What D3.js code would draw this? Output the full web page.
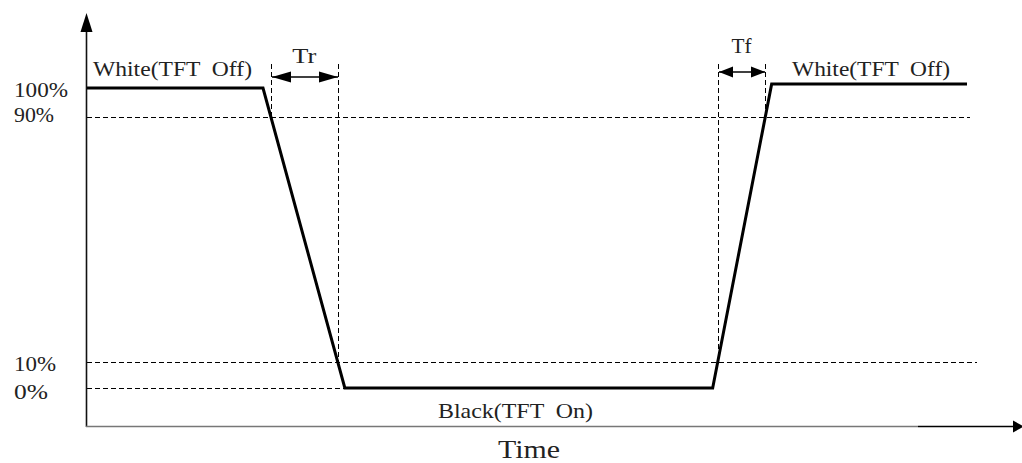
<!DOCTYPE html>
<html><head><meta charset="utf-8">
<script src="https://cdn.jsdelivr.net/npm/d3@7/dist/d3.min.js"></script>
<style>html,body{margin:0;padding:0;background:#fff;} svg{display:block;} text{white-space:pre;}</style>
</head><body><svg id="c" width="1022" height="463"></svg>
<script>
// Data
const waveT = [0, 20, 29.3, 71.1, 77.8, 100];      // time (relative units)
const waveV = [100, 100, 0, 0, 101.3, 101.3];      // optical response %
const levelLabels = ["100%", "90%", "10%", "0%"];
const levelValues = [100, 90.5, 8.7, 0];
const thresholds = [90.5, 8.7];                    // 90% / 10% thresholds
const stateLabels = ["White(TFT  Off)", "White(TFT  Off)", "Black(TFT  On)"];
const timeLabels = ["Tr", "Tf"];
const axisTitle = "Time";

const svg = d3.select("#c");
const x = d3.scaleLinear().domain([0, 100]).range([87, 967]);
const y = d3.scaleLinear().domain([0, 100]).range([388, 88]);
const FONT = "'Liberation Serif', 'DejaVu Serif', serif";

function crossT(i, v) {
  const t0 = waveT[i], t1 = waveT[i+1], v0 = waveV[i], v1 = waveV[i+1];
  return t0 + (v - v0) / (v1 - v0) * (t1 - t0);
}
const trStart = crossT(1, thresholds[0]), trEnd = crossT(1, thresholds[1]);
const tfStart = crossT(3, thresholds[1]), tfEnd = crossT(3, thresholds[0]);

const dash = "5,3";
svg.append("line").attr("x1", 87).attr("x2", 970).attr("y1", Math.round(y(thresholds[0]))+0.5).attr("y2", Math.round(y(thresholds[0]))+0.5)
  .attr("stroke","#000").attr("stroke-width",1).attr("stroke-dasharray",dash);
svg.append("line").attr("x1", 87).attr("x2", 977).attr("y1", Math.round(y(thresholds[1]))+0.5).attr("y2", Math.round(y(thresholds[1]))+0.5)
  .attr("stroke","#000").attr("stroke-width",1).attr("stroke-dasharray",dash);
svg.append("line").attr("x1", 87).attr("x2", x(waveT[2])).attr("y1", y(0)+0.5).attr("y2", y(0)+0.5)
  .attr("stroke","#000").attr("stroke-width",1).attr("stroke-dasharray",dash);

const vlines = [[trStart, thresholds[0]], [trEnd, thresholds[1]], [tfStart, thresholds[1]], [tfEnd, thresholds[0]]];
svg.selectAll(".vl").data(vlines).enter().append("line")
  .attr("x1", d => Math.round(x(d[0])) + 0.5).attr("x2", d => Math.round(x(d[0])) + 0.5)
  .attr("y1", 64).attr("y2", d => y(d[1]))
  .attr("stroke","#000").attr("stroke-width",1).attr("stroke-dasharray",dash);

// axes
svg.append("line").attr("x1",86.5).attr("x2",86.5).attr("y1",427).attr("y2",32)
  .attr("stroke","#111").attr("stroke-width",1.6);
svg.append("path").attr("d","M86.5,13 L92.5,32 L80.5,32 Z").attr("fill","#000");
svg.append("line").attr("x1",86).attr("x2",918).attr("y1",426.5).attr("y2",426.5)
  .attr("stroke","#777").attr("stroke-width",1.5);
svg.append("line").attr("x1",918).attr("x2",1013).attr("y1",426.5).attr("y2",426.5)
  .attr("stroke","#000").attr("stroke-width",1.5);
svg.append("path").attr("d","M1013,420.5 L1024,426.5 L1013,432.5 Z").attr("fill","#000");

// waveform
const line = d3.line().x((d,i) => x(waveT[i])).y((d,i) => y(waveV[i]));
svg.append("path").attr("d", line(waveV)).attr("fill","none").attr("stroke","#000")
  .attr("stroke-width",3).attr("stroke-linejoin","miter");

// Tr / Tf double arrows
const arrows = [[trStart, trEnd, 77, 19], [tfStart, tfEnd, 72, 14]];
arrows.forEach(a => {
  const x0 = Math.round(x(a[0])) + 1, x1 = Math.round(x(a[1])), yy = a[2], L = a[3], h = 5.5;
  svg.append("line").attr("x1", x0).attr("x2", x1).attr("y1", yy).attr("y2", yy)
    .attr("stroke","#000").attr("stroke-width",1.3);
  svg.append("path").attr("d", `M${x0},${yy} L${x0+L},${yy-h} L${x0+L},${yy+h} Z`).attr("fill","#000");
  svg.append("path").attr("d", `M${x1},${yy} L${x1-L},${yy-h} L${x1-L},${yy+h} Z`).attr("fill","#000");
});

// texts
const T = (txt, xx, yy, size, anchor, len) => {
  const t = svg.append("text").attr("x", xx).attr("y", yy).attr("font-family", FONT)
    .attr("font-size", size).attr("fill", "#222").attr("text-anchor", anchor || "start").text(txt);
  if (len) t.attr("textLength", len).attr("lengthAdjust", "spacingAndGlyphs");
  return t;
};
T(timeLabels[0], (x(trStart) + x(trEnd)) / 2, 63, 21, "middle", 24);
T(timeLabels[1], (x(tfStart) + x(tfEnd)) / 2, 53, 21, "middle", 20);
T(stateLabels[0], 93, 76, 21, "start", 159);
T(stateLabels[1], 792, 76, 21, "start", 158);
T(stateLabels[2], 438, 418, 21, "start", 155);
T(axisTitle, 529, 458, 26, "middle", 62);

const labelY = [97, 122, 371, 399];
levelLabels.forEach((l, i) => {
  T(l, 14, labelY[i], 21, "start", [54, 40, 42, 34][i]);
});
</script></body></html>
